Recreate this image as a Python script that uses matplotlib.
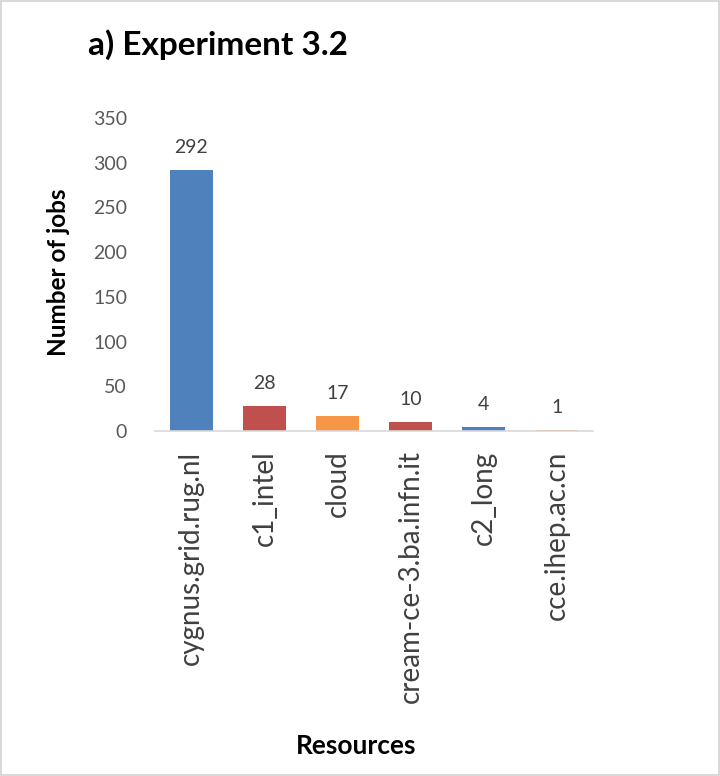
import matplotlib
matplotlib.use("Agg")
import matplotlib.pyplot as plt

categories = ["cygnus.grid.rug.nl", "c1_intel", "cloud", "cream-ce-3.ba.infn.it", "c2_long", "cce.ihep.ac.cn"]
values = [292, 28, 17, 10, 4, 1]
colors = ["#4F81BD", "#C0504D", "#F79646", "#C0504D", "#4F81BD", "#F79646"]
yticks = [0, 50, 100, 150, 200, 250, 300, 350]

plt.rcParams['font.family'] = ['Lato', 'DejaVu Sans']

fig = plt.figure(figsize=(7.2, 7.76), dpi=100)
fig.patch.set_edgecolor("#d9d9d9")
fig.patch.set_linewidth(1.5)

ax = fig.add_axes([0.215, 0.4446, 0.609, 0.4034])
x = range(len(categories))
bars = ax.bar(x, values, width=0.58, color=colors)
for xi, v in zip(x, values):
    ax.text(xi, v + 19, str(v), ha="center", va="baseline", fontsize=14, color="#404040")

ax.set_xlim(-0.5, len(categories) - 0.5)
ax.set_ylim(0, 350)
ax.set_yticks(yticks)
ax.set_yticklabels([str(t) for t in yticks], fontsize=14, color="#595959")
ax.set_xticks(list(x))
ax.set_xticklabels(categories, rotation=90, fontsize=20, color="#404040")
ax.tick_params(axis="both", length=0)
ax.tick_params(axis="y", pad=20)
ax.tick_params(axis="x", pad=14)
for s in ["top", "right", "left"]:
    ax.spines[s].set_visible(False)
ax.spines["bottom"].set_color("#d9d9d9")
ax.spines["bottom"].set_linewidth(1.2)

fig.text(88/720, 1 - 45/776, "a) Experiment 3.2", fontsize=24, fontweight="bold", ha="left", va="center")
fig.text(58/720, 1 - 272/776, "Number of jobs", fontsize=17.5, fontweight="bold", rotation=90, ha="center", va="center")
fig.text(356/720, 1 - 746/776, "Resources", fontsize=19, fontweight="bold", ha="center", va="center")

fig.savefig("out.png", dpi=100, edgecolor=fig.get_edgecolor())
